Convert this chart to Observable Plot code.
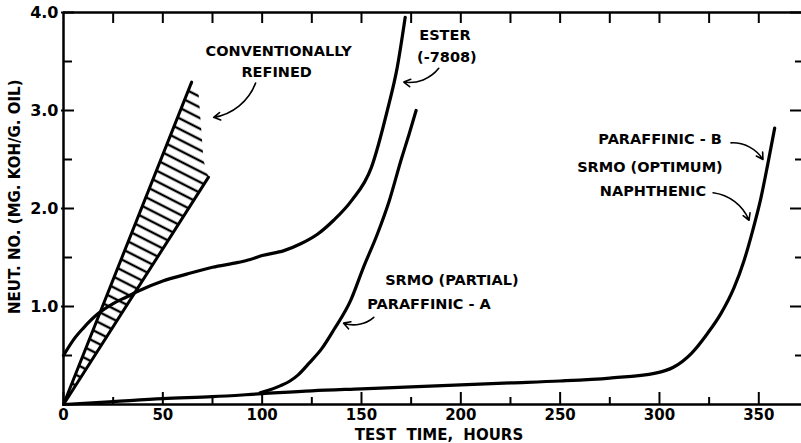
<!DOCTYPE html>
<html><head><meta charset="utf-8">
<script src="https://cdn.jsdelivr.net/npm/d3@7"></script>
<script src="https://cdn.jsdelivr.net/npm/@observablehq/plot@0.6"></script>
<style>body{margin:0;background:#fff} #chart svg{display:block}</style>
</head><body><div id="chart"></div>
<script>
// Lower curve: SRMO (optimum) / Naphthenic / Paraffinic-B
const lowerX = [0, 25, 50, 75, 100, 125, 150, 175, 200, 225, 250, 275, 298, 307, 316, 324, 331, 337.5, 342.6, 347, 351, 354.5, 358];
const lowerY = [0, 0.03, 0.06, 0.08, 0.11, 0.14, 0.16, 0.18, 0.2, 0.22, 0.24, 0.27, 0.32, 0.38, 0.52, 0.72, 0.93, 1.19, 1.47, 1.78, 2.1, 2.45, 2.82];
// SRMO (partial) / Paraffinic-A
const paraAX = [99, 104, 109, 114, 118, 124, 130, 136, 144.5, 151, 158, 164, 170, 174, 177.5];
const paraAY = [0.12, 0.15, 0.19, 0.24, 0.3, 0.43, 0.57, 0.76, 1.06, 1.4, 1.74, 2.08, 2.5, 2.76, 3.0];
// Ester (-7808)
const esterX = [0, 5, 10, 17.6, 25, 32, 38, 50, 62, 75, 88, 94, 100, 111, 119.4, 128, 136, 145, 155, 163, 168, 172];
const esterY = [0.5, 0.66, 0.78, 0.93, 1.03, 1.1, 1.16, 1.26, 1.33, 1.4, 1.45, 1.48, 1.52, 1.57, 1.64, 1.74, 1.88, 2.08, 2.42, 3.0, 3.44, 3.95];
// Conventionally refined band (hatched)
const bandX = [0, 64.5, 68, 70.5, 73];
const bandY = [0, 3.29, 3.17, 2.49, 2.32];
const bandLeftX = [0, 64.5], bandLeftY = [0, 3.29];
const bandRightX = [0, 73], bandRightY = [0, 2.32];
// Annotations
const labelText = ["CONVENTIONALLY", "REFINED", "ESTER", "(-7808)", "SRMO (PARTIAL)", "PARAFFINIC - A", "PARAFFINIC - B", "SRMO (OPTIMUM)", "NAPHTHENIC"];
const labelX = [108.3, 107.3, 192, 193, 195.5, 184, 300.3, 295.2, 296.7];
const labelY = [3.6, 3.39, 3.77, 3.54, 1.27, 1.02, 2.71, 2.42, 2.18];
const arrowX1 = [96.7, 188.9, 156.2, 336, 327];
const arrowY1 = [3.28, 3.43, 0.89, 2.67, 2.16];
const arrowX2 = [75.6, 171.3, 141, 352.1, 345.1];
const arrowY2 = [2.93, 3.29, 0.83, 2.5, 1.88];
// Ticks
const xMajorTicks = [0, 50, 100, 150, 200, 250, 300, 350];
const xMinorTicks = [25, 75, 125, 175, 225, 275, 325];
const topTicks = [25, 50, 75, 100, 125, 150, 175, 200, 225, 250, 275, 300, 325, 350];
const yMajorTicks = [1, 2, 3, 4];
const yMinorTicks = [0.5, 1.5, 2.5, 3.5];
const xTitle = "TEST TIME, HOURS";
const yTitle = "NEUT. NO. (MG. KOH/G. OIL)";

const pts = (xs, ys) => xs.map((x, i) => ({x, y: ys[i]}));
const FONT = "DejaVu Sans";

const plot = Plot.plot({
  width: 801, height: 443,
  marginLeft: 63, marginRight: 0, marginTop: 12, marginBottom: 39,
  x: {domain: [0, 371.5]},
  y: {domain: [0, 4]},
  style: {fontFamily: FONT, fontWeight: "bold", color: "black", background: "white"},
  marks: [
    Plot.line(pts(bandX, bandY), {x: "x", y: "y", curve: "linear-closed", fill: "url(#hatch)", stroke: "none"}),
    Plot.line(pts(bandLeftX, bandLeftY), {x: "x", y: "y", stroke: "black", strokeWidth: 3}),
    Plot.line(pts(bandRightX, bandRightY), {x: "x", y: "y", stroke: "black", strokeWidth: 3}),
    Plot.line(pts(lowerX, lowerY), {x: "x", y: "y", curve: "monotone-x", stroke: "black", strokeWidth: 3.2}),
    Plot.line(pts(paraAX, paraAY), {x: "x", y: "y", curve: "monotone-x", stroke: "black", strokeWidth: 3.2}),
    Plot.line(pts(esterX, esterY), {x: "x", y: "y", curve: "monotone-x", stroke: "black", strokeWidth: 3.2}),
    // axes lines
    Plot.ruleX([0], {y1: 0, y2: 4, stroke: "black", strokeWidth: 2.5}),
    Plot.ruleY([0, 4], {stroke: "black", strokeWidth: 2.5}),
    // ticks
    Plot.axisX({anchor: "bottom", ticks: xMajorTicks, tickSize: -12, fill: "none", strokeWidth: 2, label: null}),
    Plot.axisX({anchor: "bottom", ticks: xMinorTicks, tickSize: -7, fill: "none", strokeWidth: 2, label: null}),
    Plot.axisX({anchor: "bottom", ticks: xMajorTicks, tickSize: 0, tickPadding: 5, fontSize: 15, fontWeight: "bold", label: null, fill: "black"}),
    Plot.axisX({anchor: "top", ticks: topTicks, tickSize: -10, fill: "none", strokeWidth: 2, label: null}),
    Plot.axisY({anchor: "left", ticks: yMajorTicks, tickSize: -11, fill: "none", strokeWidth: 2, label: null}),
    Plot.axisY({anchor: "left", ticks: yMajorTicks, tickSize: 2, fill: "none", strokeWidth: 2, label: null}),
    Plot.axisY({anchor: "left", ticks: yMinorTicks, tickSize: -9, fill: "none", strokeWidth: 2, label: null}),
    Plot.axisY({anchor: "left", ticks: yMajorTicks, tickSize: 0, tickPadding: 5, tickFormat: d3.format(".1f"), fontSize: 16, fontWeight: "bold", label: null, fill: "black"}),
    Plot.axisY({anchor: "right", ticks: yMajorTicks, tickSize: -12, fill: "none", strokeWidth: 2, label: null}),
    Plot.axisY({anchor: "right", ticks: yMinorTicks, tickSize: -7, fill: "none", strokeWidth: 2, label: null}),
    // titles
    Plot.text([xTitle], {x: () => 189, frameAnchor: "bottom", lineAnchor: "middle", textAnchor: "middle", dy: 31, fontSize: 15, fontWeight: "bold", fill: "black"}),
    Plot.text([yTitle], {y: () => 2.12, frameAnchor: "left", textAnchor: "middle", lineAnchor: "middle", rotate: -90, dx: -48, fontSize: 15, fontWeight: "bold", fill: "black"}),
    // annotations
    Plot.text(labelText, {x: (d, i) => labelX[i], y: (d, i) => labelY[i], text: d => d, fontSize: 14.5, fontWeight: "bold", fill: "black"}),
    Plot.arrow(labelText.slice(0, 5), {x1: (d, i) => arrowX1[i], y1: (d, i) => arrowY1[i], x2: (d, i) => arrowX2[i], y2: (d, i) => arrowY2[i], bend: 30, headLength: 7, strokeWidth: 1.6, stroke: "black"})
  ]
});

const defs = document.createElementNS("http://www.w3.org/2000/svg", "defs");
defs.innerHTML = '<pattern id="hatch" patternUnits="userSpaceOnUse" width="40" height="9.5" patternTransform="rotate(27)"><line x1="-5" y1="4.75" x2="45" y2="4.75" stroke="black" stroke-width="2.6"/></pattern>';
plot.insertBefore(defs, plot.firstChild);
plot.querySelectorAll("text").forEach(t => { if (t.textContent === xTitle) t.setAttribute("word-spacing", "5"); });
document.getElementById("chart").appendChild(plot);
</script>
</body></html>
